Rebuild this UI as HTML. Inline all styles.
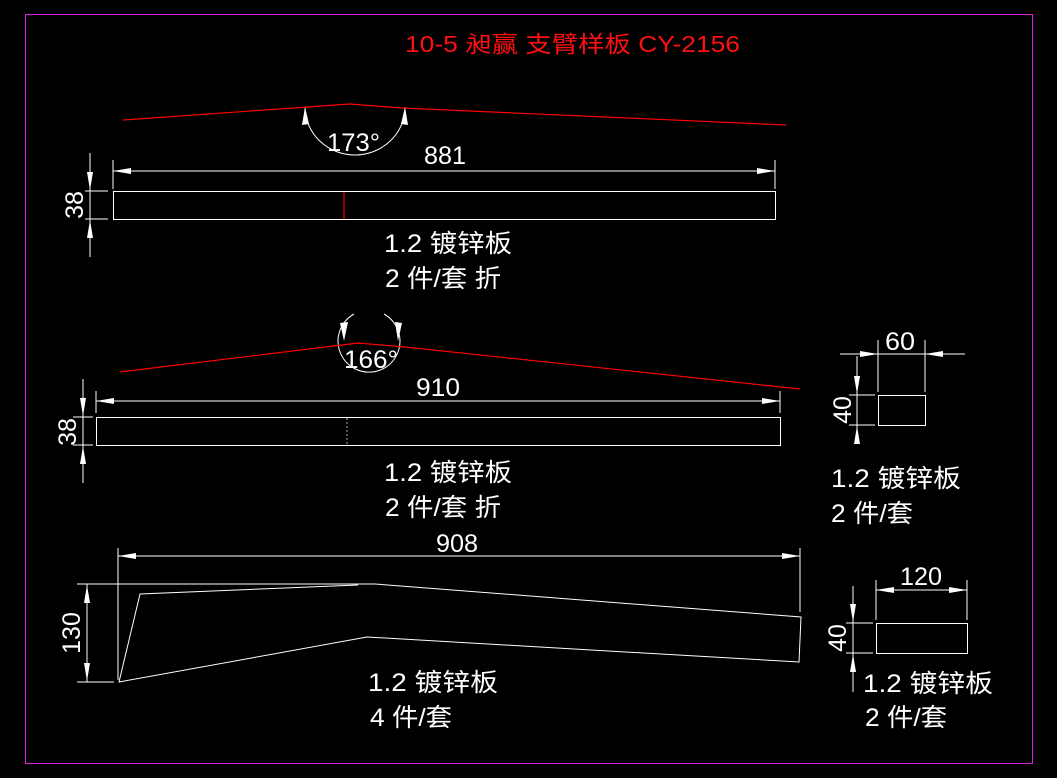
<!DOCTYPE html>
<html><head><meta charset="utf-8"><style>
html,body{margin:0;padding:0;background:#000;}
svg{display:block}
text{font-family:"Liberation Sans","Noto Sans CJK SC",sans-serif;fill:#fff}
</style></head><body>
<svg width="1057" height="778" viewBox="0 0 1057 778" xmlns="http://www.w3.org/2000/svg">
<rect x="0" y="0" width="1057" height="778" fill="#000"/>
<rect x="25.5" y="14.5" width="1007" height="749" fill="none" stroke="#e020e0" stroke-width="1"/>
<text x="405" y="52" font-size="23" style="fill:#ff1010" textLength="335" lengthAdjust="spacingAndGlyphs">10-5 昶赢 支臂样板 CY-2156</text>

<g stroke="#fff" stroke-width="1" fill="none">
<path d="M305,107 A50,48 0 0 0 405,107"/>
<line x1="113" y1="171" x2="775" y2="171"/>
<line x1="113" y1="160" x2="113" y2="189"/>
<line x1="775" y1="160" x2="775" y2="189"/>
<rect x="113.5" y="191.5" width="662" height="28"/>
<line x1="90" y1="153" x2="90" y2="257"/>
<line x1="85" y1="191" x2="108" y2="191"/>
<line x1="85" y1="219" x2="108" y2="219"/>

<path d="M354,314 A31,31 0 1 0 384,314"/>
<line x1="96" y1="401" x2="780" y2="401"/>
<line x1="96" y1="391" x2="96" y2="413"/>
<line x1="780" y1="391" x2="780" y2="413"/>
<rect x="96.5" y="417.5" width="684" height="28"/>
<line x1="83" y1="379" x2="83" y2="483"/>
<line x1="73" y1="417" x2="93" y2="417"/>
<line x1="73" y1="445" x2="93" y2="445"/>

<line x1="118" y1="556" x2="800" y2="556"/>
<line x1="118" y1="548" x2="118" y2="680"/>
<line x1="800" y1="548" x2="800" y2="612"/>
<line x1="77" y1="584" x2="375" y2="584"/>
<line x1="77" y1="682" x2="114" y2="682"/>
<line x1="87" y1="584" x2="87" y2="682"/>
<polyline points="358,585 140,594 119,682 367,637 799,662 801,617 375,584"/>

<rect x="878.5" y="395.5" width="47" height="30"/>
<line x1="840" y1="354" x2="965" y2="354"/>
<line x1="878" y1="340" x2="878" y2="392"/>
<line x1="925" y1="340" x2="925" y2="392"/>
<line x1="857" y1="356" x2="857" y2="440"/>
<line x1="849" y1="395" x2="875" y2="395"/>
<line x1="849" y1="425" x2="875" y2="425"/>

<rect x="876.5" y="623.5" width="91" height="30"/>
<line x1="876" y1="590" x2="967" y2="590"/>
<line x1="876" y1="580" x2="876" y2="620"/>
<line x1="967" y1="580" x2="967" y2="620"/>
<line x1="853" y1="586" x2="853" y2="692"/>
<line x1="846" y1="623" x2="873" y2="623"/>
<line x1="846" y1="653" x2="873" y2="653"/>
</g>

<g fill="#fff">
<polygon points="305,107 302,125 309,124"/>
<polygon points="405,107 401,124 408,125"/>
<polygon points="113,171 131,168 131,174"/>
<polygon points="775,171 757,168 757,174"/>
<polygon points="90,190 87,172 93,172"/>
<polygon points="90,220 87,238 93,238"/>
<polygon points="344,341 340,323 348,322"/>
<polygon points="398,341 395,322 402,323"/>
<polygon points="96,401 114,398 114,404"/>
<polygon points="780,401 762,398 762,404"/>
<polygon points="83,416 80,398 86,398"/>
<polygon points="83,446 80,464 86,464"/>
<polygon points="118,556 136,553 136,559"/>
<polygon points="800,556 782,553 782,559"/>
<polygon points="87,585 84,603 90,603"/>
<polygon points="87,681 84,663 90,663"/>
<polygon points="878,354 860,351 860,357"/>
<polygon points="925,354 943,351 943,357"/>
<polygon points="857,394 854,376 860,376"/>
<polygon points="857,426 854,444 860,444"/>
<polygon points="876,590 894,587 894,593"/>
<polygon points="967,590 949,587 949,593"/>
<polygon points="853,622 850,604 856,604"/>
<polygon points="853,654 850,672 856,672"/>
</g>

<g stroke="#ff0000" stroke-width="1.2" fill="none">
<polyline points="123,120 350,104 402,108 786,125"/>
<line x1="344" y1="192" x2="344" y2="219"/>
<polyline points="120,372 358,343 405,347 800,389"/>
</g>
<line x1="347" y1="418" x2="347" y2="445" stroke="#aaa" stroke-width="1" stroke-dasharray="2,2"/>

<g font-size="25" lengthAdjust="spacingAndGlyphs">
<text x="327" y="151" textLength="53" lengthAdjust="spacingAndGlyphs">173°</text>
<text x="424" y="164" textLength="42" lengthAdjust="spacingAndGlyphs">881</text>
<text transform="translate(83,205) rotate(-90)" text-anchor="middle">38</text>
<text x="384" y="252" textLength="128" lengthAdjust="spacingAndGlyphs">1.2  镀锌板</text>
<text x="385" y="287" textLength="116" lengthAdjust="spacingAndGlyphs">2 件/套 折</text>

<text x="344" y="368" textLength="54" lengthAdjust="spacingAndGlyphs">166°</text>
<text x="416" y="396" textLength="44" lengthAdjust="spacingAndGlyphs">910</text>
<text transform="translate(76,432) rotate(-90)" text-anchor="middle">38</text>
<text x="384" y="481" textLength="128" lengthAdjust="spacingAndGlyphs">1.2  镀锌板</text>
<text x="385" y="516" textLength="116" lengthAdjust="spacingAndGlyphs">2 件/套 折</text>

<text x="436" y="552" textLength="42" lengthAdjust="spacingAndGlyphs">908</text>
<text transform="translate(80,633) rotate(-90)" text-anchor="middle">130</text>
<text x="368" y="691" textLength="130" lengthAdjust="spacingAndGlyphs">1.2  镀锌板</text>
<text x="370" y="726" textLength="82" lengthAdjust="spacingAndGlyphs">4 件/套</text>

<text x="885" y="350" textLength="30" lengthAdjust="spacingAndGlyphs">60</text>
<text transform="translate(851,410) rotate(-90)" text-anchor="middle">40</text>
<text x="831" y="487" textLength="130" lengthAdjust="spacingAndGlyphs">1.2  镀锌板</text>
<text x="831" y="522" textLength="82" lengthAdjust="spacingAndGlyphs">2 件/套</text>

<text x="900" y="585" textLength="42" lengthAdjust="spacingAndGlyphs">120</text>
<text transform="translate(846,638) rotate(-90)" text-anchor="middle">40</text>
<text x="863" y="692" textLength="130" lengthAdjust="spacingAndGlyphs">1.2  镀锌板</text>
<text x="865" y="726" textLength="82" lengthAdjust="spacingAndGlyphs">2 件/套</text>
</g>
</svg>
</body></html>
